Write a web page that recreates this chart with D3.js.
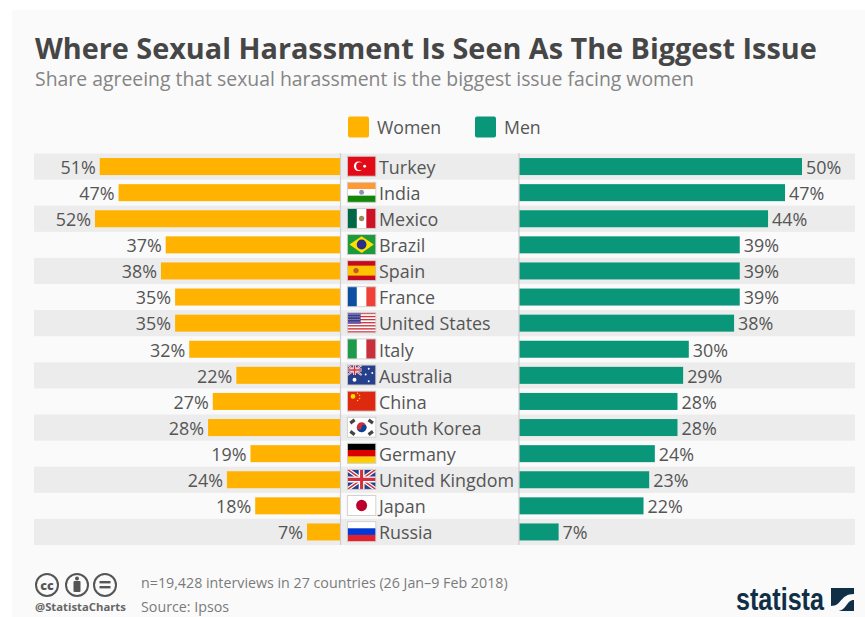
<!DOCTYPE html>
<html>
<head>
<meta charset="utf-8">
<script src="https://cdn.jsdelivr.net/npm/d3@7"></script>
<style>
html,body{margin:0;padding:0;background:#fff}
svg{display:block}
text{font-family:"Open Sans",sans-serif}
</style>
</head>
<body>
<svg id="chart" width="865" height="617"></svg>
<script>
const countries = ["Turkey","India","Mexico","Brazil","Spain","France","United States","Italy","Australia","China","South Korea","Germany","United Kingdom","Japan","Russia"];
const women = [51,47,52,37,38,35,35,32,22,27,28,19,24,18,7];
const men = [50,47,44,39,39,39,38,30,29,28,28,24,23,22,7];
const seriesNames = ["Women","Men"];
const seriesColors = ["#ffb300","#0a9678"];

const svg = d3.select("#chart");
svg.append("rect").attr("x",12).attr("y",10).attr("width",853).attr("height",607).attr("fill","#fafafa");

const rows = d3.scaleBand().domain(countries).range([153.5,545]);
const leftX = d3.scaleLinear().domain([0,52]).range([340,95]);
const rightX = d3.scaleLinear().domain([0,50]).range([519,802]);
const barH = 17;
const barY = c => rows(c)+(rows.bandwidth()-barH)/2;

svg.append("text").attr("x",35).attr("y",59).attr("font-size",28.8).attr("font-weight",700).attr("fill","#464646")
  .text("Where Sexual Harassment Is Seen As The Biggest Issue");
svg.append("text").attr("x",35).attr("y",86).attr("font-size",19.4).attr("fill","#858585")
  .text("Share agreeing that sexual harassment is the biggest issue facing women");

// legend
[[348,377],[475,504]].forEach(([sx,tx],i)=>{
  svg.append("rect").attr("x",sx).attr("y",116.5).attr("width",21).attr("height",21).attr("rx",2).attr("fill",seriesColors[i]);
  svg.append("text").attr("x",tx).attr("y",134).attr("font-size",17.7).attr("fill","#555").text(seriesNames[i]);
});

// alternating row stripes
svg.append("g").selectAll("rect").data(countries.filter((c,i)=>i%2===0)).join("rect")
  .attr("x",34).attr("width",821).attr("y",rows).attr("height",rows.bandwidth()).attr("fill","#ececec");

// bars
svg.append("g").selectAll("rect").data(countries).join("rect")
  .attr("x",(c,i)=>leftX(women[i])).attr("y",barY).attr("height",barH)
  .attr("width",(c,i)=>leftX(0)-leftX(women[i])).attr("fill",seriesColors[0]);
svg.append("g").selectAll("rect").data(countries).join("rect")
  .attr("x",rightX(0)).attr("y",barY).attr("height",barH)
  .attr("width",(c,i)=>rightX(men[i])-rightX(0)).attr("fill",seriesColors[1]);

// centre dividers
[340.5,519].forEach(x=>svg.append("line").attr("x1",x).attr("x2",x).attr("y1",153).attr("y2",545).attr("stroke","#cfcfcf").attr("stroke-width",1.2));

const labelY = c => rows(c)+rows.bandwidth()/2+7.3;
const labelStyle = s => s.attr("font-size",17.9).attr("fill","#555");
svg.append("g").selectAll("text").data(countries).join("text").call(labelStyle)
  .attr("text-anchor","end").attr("x",(c,i)=>leftX(women[i])-4).attr("y",labelY).text((c,i)=>women[i]+"%");
svg.append("g").selectAll("text").data(countries).join("text").call(labelStyle)
  .attr("x",(c,i)=>rightX(men[i])+4).attr("y",labelY).text((c,i)=>men[i]+"%");
svg.append("g").selectAll("text").data(countries).join("text").call(labelStyle)
  .attr("x",379).attr("y",labelY).text(c=>c);

// flags: each painter draws on a 28x19 box
const W=28,H=19;
const rect=(g,x,y,w,h,f)=>g.append("rect").attr("x",x).attr("y",y).attr("width",w).attr("height",h).attr("fill",f);
const circ=(g,x,y,r,f)=>g.append("circle").attr("cx",x).attr("cy",y).attr("r",r).attr("fill",f);
const hStripes=(g,cols)=>cols.forEach((c,i)=>rect(g,0,i*H/cols.length,W,H/cols.length,c));
const vStripes=(g,cols)=>cols.forEach((c,i)=>rect(g,i*W/cols.length,0,W/cols.length,H,c));
const union=(g,w,h)=>{
  rect(g,0,0,w,h,"#27408b");
  g.append("path").attr("d",`M0 0L${w} ${h}M${w} 0L0 ${h}`).attr("stroke","#fff").attr("stroke-width",h*0.2);
  g.append("path").attr("d",`M0 0L${w} ${h}M${w} 0L0 ${h}`).attr("stroke","#d2303c").attr("stroke-width",h*0.08);
  g.append("path").attr("d",`M${w/2} 0V${h}M0 ${h/2}H${w}`).attr("stroke","#fff").attr("stroke-width",h*0.3);
  g.append("path").attr("d",`M${w/2} 0V${h}M0 ${h/2}H${w}`).attr("stroke","#d2303c").attr("stroke-width",h*0.16);
};
const flags={
  "Turkey":g=>{rect(g,0,0,W,H,"#e30a17");circ(g,11,9.5,4.6,"#fff");circ(g,12.3,9.5,3.7,"#e30a17");circ(g,17,9.5,1.4,"#fff");},
  "India":g=>{hStripes(g,["#ff9933","#fff","#138808"]);circ(g,14,9.5,2.4,"#8a8fc0");},
  "Mexico":g=>{vStripes(g,["#006847","#fff","#ce1126"]);circ(g,14,9.5,2.6,"#a08a60");},
  "Brazil":g=>{rect(g,0,0,W,H,"#1c9a3c");g.append("path").attr("d","M14 1.5L26 9.5L14 17.5L2 9.5Z").attr("fill","#fedf00");circ(g,14,9.5,4.8,"#2a2f86");},
  "Spain":g=>{rect(g,0,0,W,H,"#c60b1e");rect(g,0,H/4,W,H/2,"#ffc400");circ(g,8.5,9.5,2.6,"#c0562a");},
  "France":g=>vStripes(g,["#0b4ea2","#fff","#ef4135"]),
  "United States":g=>{
    d3.range(13).forEach(i=>rect(g,0,i*H/13,W,H/13,i%2?"#fff":"#d2303c"));
    rect(g,0,0,13,H*7/13,"#3c3b8e");
    d3.range(4).forEach(r=>d3.range(6).forEach(c=>circ(g,1.5+c*2,1.3+r*2.5,0.5,"#dde")));
  },
  "Italy":g=>vStripes(g,["#1d9a4b","#fff","#c8303c"]),
  "Australia":g=>{
    rect(g,0,0,W,H,"#27408b");union(g,14,9.5);
    circ(g,7,14,1.9,"#fff");
    [[21,3.5],[24.5,7.5],[18,9],[21,15.5]].forEach(p=>circ(g,p[0],p[1],0.95,"#fff"));
  },
  "China":g=>{rect(g,0,0,W,H,"#de2910");circ(g,5.5,5,2.3,"#ffde00");[[10,2],[12,4],[12,7],[10,9]].forEach(p=>circ(g,p[0],p[1],0.7,"#ffde00"));},
  "South Korea":g=>{
    rect(g,0,0,W,H,"#fff");
    circ(g,14,9.5,4.8,"#cd2e3a");
    g.append("path").attr("d","M9.2 9.5A4.8 4.8 0 0 0 18.8 9.5A2.4 2.4 0 0 0 14 9.5A2.4 2.4 0 0 1 9.2 9.5Z").attr("fill","#0047a0");
    [[5,4],[23,4],[5,15],[23,15]].forEach(p=>g.append("rect").attr("x",p[0]-2.6).attr("y",p[1]-1.6).attr("width",5.2).attr("height",3.2)
      .attr("fill","#444").attr("transform",`rotate(${(p[0]<14)===(p[1]<9)?-35:35} ${p[0]} ${p[1]})`));
  },
  "Germany":g=>hStripes(g,["#000","#dd0000","#ffce00"]),
  "United Kingdom":g=>union(g,W,H),
  "Japan":g=>{rect(g,0,0,W,H,"#fff");circ(g,14,9.5,5.4,"#bc002d");},
  "Russia":g=>hStripes(g,["#fff","#0039d6","#e3202c"])
};
countries.forEach(c=>{
  const g=svg.append("g").attr("transform",`translate(347.4,${rows(c)+rows.bandwidth()/2-10.3}) scale(1.015,1.05)`);
  flags[c](g);
  g.append("rect").attr("width",W).attr("height",H).attr("fill","none").attr("stroke","#cfcfcf").attr("stroke-width",0.9);
});

// licence icons
const icons=svg.append("g").attr("fill","none").attr("stroke","#555").attr("stroke-width",2);
[47,77,105].forEach(x=>icons.append("circle").attr("cx",x).attr("cy",585).attr("r",11));
svg.append("text").attr("x",47).attr("y",589.5).attr("text-anchor","middle").attr("font-size",12.5).attr("font-weight",800).attr("fill","#555").text("cc");
svg.append("circle").attr("cx",77).attr("cy",578.5).attr("r",2).attr("fill","#555");
svg.append("rect").attr("x",73.5).attr("y",581).attr("width",7).attr("height",11).attr("rx",1).attr("fill","#555");
svg.append("rect").attr("x",99.5).attr("y",581).attr("width",11).attr("height",2.4).attr("fill","#555");
svg.append("rect").attr("x",99.5).attr("y",586).attr("width",11).attr("height",2.4).attr("fill","#555");
svg.append("text").attr("x",35).attr("y",611).attr("font-size",11.3).attr("font-weight",700).attr("fill","#666").text("@StatistaCharts");

svg.append("text").attr("x",141).attr("y",588).attr("font-size",14.25).attr("fill","#7a7a7a").text("n=19,428 interviews in 27 countries (26 Jan\u20139 Feb 2018)");
svg.append("text").attr("x",141).attr("y",612).attr("font-size",14.25).attr("fill","#7a7a7a").text("Source: Ipsos");

// wordmark, squeezed horizontally to a condensed 88px
const mark=svg.append("text").attr("font-size",31).attr("font-weight",700).attr("fill","#0f2f47")
  .style("font-family","'Liberation Sans',sans-serif").text("statista");
const markLen=mark.node().getComputedTextLength();
mark.attr("transform",`translate(736,610) scale(${88/markLen},1)`);
svg.append("rect").attr("x",831).attr("y",588).attr("width",23).attr("height",23).attr("fill","#0f2f47");
svg.append("path").attr("d","M831 606C842 606 840 594 854 594L854 600C846 600 847 611 837 611L831 611Z").attr("fill","#fafafa");
</script>
</body>
</html>
